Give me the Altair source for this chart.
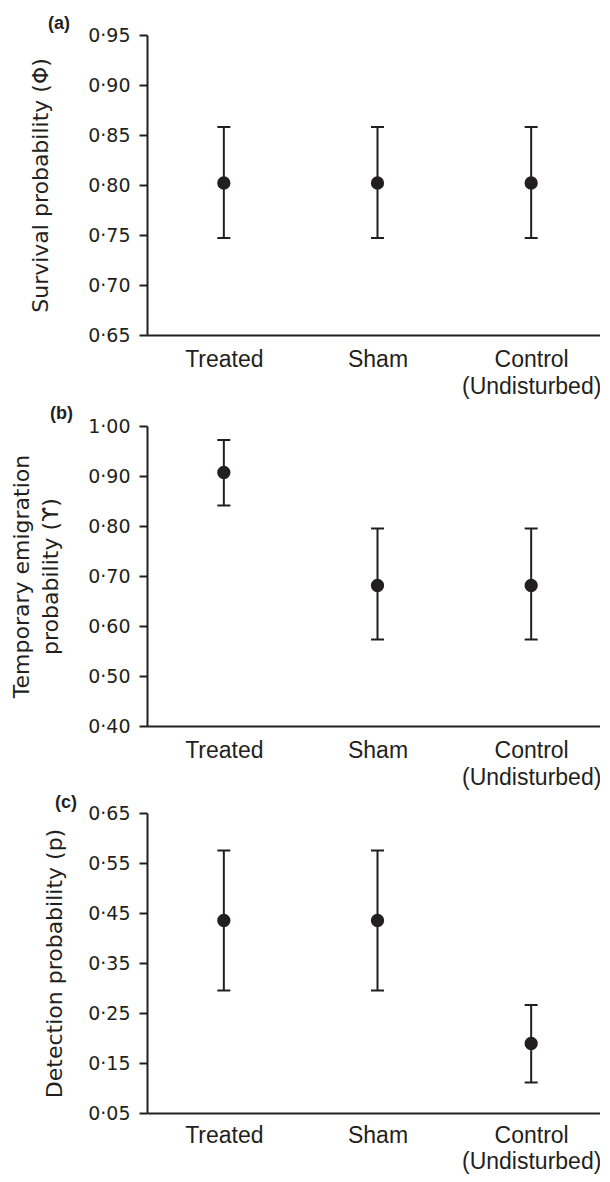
import altair as alt
import pandas as pd

groups = ["Treated", "Sham", "Control (Undisturbed)"]

# (a) survival probability
surv_est = [0.802, 0.802, 0.802]
surv_lo = [0.747, 0.747, 0.747]
surv_hi = [0.858, 0.858, 0.858]
surv_ticks = [0.65, 0.70, 0.75, 0.80, 0.85, 0.90, 0.95]

# (b) temporary emigration probability
emig_est = [0.907, 0.681, 0.681]
emig_lo = [0.841, 0.573, 0.573]
emig_hi = [0.972, 0.795, 0.795]
emig_ticks = [0.40, 0.50, 0.60, 0.70, 0.80, 0.90, 1.00]

# (c) detection probability
det_est = [0.435, 0.435, 0.189]
det_lo = [0.295, 0.295, 0.111]
det_hi = [0.575, 0.575, 0.266]
det_ticks = [0.05, 0.15, 0.25, 0.35, 0.45, 0.55, 0.65]

INK = "#231f20"
PLOT_W = 461
PLOT_H = 300
LEFT = 139


def panel(est, lo, hi, ticks, title, tag, top, bottom,
          title_pad, tag_x, tag_y, xlab_pad, xlab_lh):
    df = pd.DataFrame({"group": groups, "est": est, "lo": lo, "hi": hi})
    xaxis = alt.Axis(
        title=None, labelAngle=0, ticks=False, tickSize=0, labelPadding=xlab_pad,
        labelFont="Liberation Sans", labelFontSize=23, labelLineHeight=xlab_lh,
        labelColor=INK, domainColor=INK, domainWidth=2,
        labelExpr="datum.value == 'Control (Undisturbed)' ? ['Control', '(Undisturbed)'] : datum.value",
    )
    yaxis = alt.Axis(
        values=ticks, title=title, tickSize=8, tickWidth=2, tickColor=INK,
        labelPadding=9, labelFont="DejaVu Sans", labelFontSize=19, labelColor=INK,
        labelExpr="replace(format(datum.value, '.2f'), '.', '·')",
        titleFont="DejaVu Sans", titleFontSize=22, titleFontWeight="normal",
        titleColor=INK, titlePadding=title_pad, titleLineHeight=29,
        domainColor=INK, domainWidth=2, grid=False,
    )
    yscale = alt.Scale(domain=[ticks[0], ticks[-1]], nice=False, zero=False)
    xenc = alt.X("group:N", sort=groups, scale=alt.Scale(type="point", padding=0.5), axis=xaxis)

    base = alt.Chart(df)
    rule = base.mark_rule(color=INK, strokeWidth=2).encode(
        x=xenc, y=alt.Y("lo:Q", scale=yscale, axis=yaxis, title=title), y2="hi:Q")
    cap_lo = base.mark_tick(color=INK, size=13, thickness=2, opacity=1).encode(
        x=xenc, y=alt.Y("lo:Q", scale=yscale, axis=yaxis, title=title))
    cap_hi = base.mark_tick(color=INK, size=13, thickness=2, opacity=1).encode(
        x=xenc, y=alt.Y("hi:Q", scale=yscale, axis=yaxis, title=title))
    dots = base.mark_circle(color=INK, size=177, opacity=1).encode(
        x=xenc, y=alt.Y("est:Q", scale=yscale, axis=yaxis, title=title))
    label = alt.Chart(pd.DataFrame({"tag": [tag]})).mark_text(
        align="left", baseline="alphabetic", font="Liberation Sans", fontSize=18,
        fontWeight="bold", color=INK,
    ).encode(text="tag:N", x=alt.value(tag_x), y=alt.value(tag_y))
    # invisible frame that fixes this panel's outer extent
    anchor = alt.Chart(pd.DataFrame({"k": [0]})).mark_rule(
        opacity=0, strokeOpacity=0, strokeWidth=0).encode(
        x=alt.value(-LEFT), x2=alt.value(-LEFT),
        y=alt.value(-top), y2=alt.value(PLOT_H + bottom))
    return alt.layer(anchor, rule, cap_lo, cap_hi, dots, label).properties(
        width=PLOT_W, height=PLOT_H)


pa = panel(surv_est, surv_lo, surv_hi, surv_ticks, "Survival probability (Φ)", "(a)",
           27, 65, 35.5, -99, -6, 13, 27)
pb = panel(emig_est, emig_lo, emig_hi, emig_ticks,
           ["Temporary emigration", "probability (ϒ)"], "(b)", 26, 66, 25.5, -97, -7, 13, 27)
pc = panel(det_est, det_lo, det_hi, det_ticks, "Detection probability (p)", "(c)",
           21, 71, 21.5, -92, -5, 11, 26)

chart = alt.vconcat(pa, pb, pc, spacing=0).properties(
    padding={"left": 0, "top": 0, "right": -8, "bottom": -10}
).configure(background="white").configure_view(stroke=None)

chart.save("out.html", embed_options={"renderer": "svg", "actions": False})
